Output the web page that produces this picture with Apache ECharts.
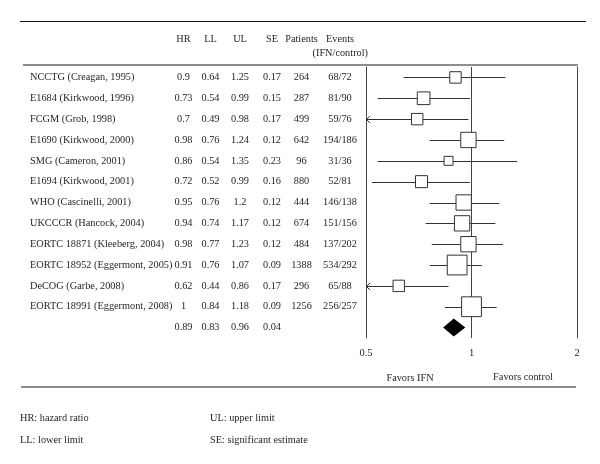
<!DOCTYPE html>
<html><head><meta charset="utf-8">
<script src="https://cdn.jsdelivr.net/npm/echarts/dist/echarts.min.js"></script>
<style>html,body{margin:0;padding:0;background:#fff}#c{width:600px;height:464px}</style>
</head><body><div id="c"></div>
<script>
// ---- data ----
const studies = ['NCCTG (Creagan, 1995)','E1684 (Kirkwood, 1996)','FCGM (Grob, 1998)','E1690 (Kirkwood, 2000)','SMG (Cameron, 2001)','E1694 (Kirkwood, 2001)','WHO (Cascinelli, 2001)','UKCCCR (Hancock, 2004)','EORTC 18871 (Kleeberg, 2004)','EORTC 18952 (Eggermont, 2005)','DeCOG (Garbe, 2008)','EORTC 18991 (Eggermont, 2008)'];
const hr = [0.9,0.73,0.7,0.98,0.86,0.72,0.95,0.94,0.98,0.91,0.62,1];
const ll = [0.64,0.54,0.49,0.76,0.54,0.52,0.76,0.74,0.77,0.76,0.44,0.84];
const ul = [1.25,0.99,0.98,1.24,1.35,0.99,1.2,1.17,1.23,1.07,0.86,1.18];
const se = [0.17,0.15,0.17,0.12,0.23,0.16,0.12,0.12,0.12,0.09,0.17,0.09];
const patients = [264,287,499,642,96,880,444,674,484,1388,296,1256];
const events = ['68/72','81/90','59/76','194/186','31/36','52/81','146/138','151/156','137/202','534/292','65/88','256/257'];
const pooledHR = 0.89, pooledLL = 0.83, pooledUL = 0.96, pooledSE = 0.04;
const axisTicks = [0.5, 1, 2];
const headers = ['HR','LL','UL','SE','Patients','Events'];
const footnotes = ['HR: hazard ratio','LL: lower limit','UL: upper limit','SE: significant estimate'];

// ---- layout ----
const FONT = 'Liberation Serif';
const FS = 10.3;
const TXT = '#231f20';
const nRows = studies.length;           // pooled row index = nRows
const colX = [183.5, 210.5, 240, 272, 301.5, 340]; // HR LL UL SE Patients Events (centers)
const nameX = 30;
const gTop = 67, gH = 271;
const fx0 = 366, fx1 = 577;

const chart = echarts.init(document.getElementById('c'), null, {renderer:'canvas'});

const tableData = studies.map((s,i)=>[i]);
tableData.push([nRows]);

function txt(x,y,t,align){
  return {type:'text', style:{x:x, y:y, text:t, fill:TXT, fontFamily:FONT, fontSize:FS, textAlign:align||'center', textVerticalAlign:'middle'}};
}

const option = {
  animation:false,
  backgroundColor:'#fff',
  grid:[
    {left:0, top:gTop, width:fx0, height:gH},
    {left:fx0, top:gTop, width:fx1-fx0, height:gH}
  ],
  xAxis:[
    {gridIndex:0, type:'value', min:0, max:fx0, show:false},
    {gridIndex:1, type:'log', logBase:2, min:axisTicks[0], max:axisTicks[axisTicks.length-1],
     axisLine:{show:false}, axisTick:{show:false}, splitLine:{show:false},
     axisLabel:{margin:10, color:TXT, fontFamily:FONT, fontSize:10.5, formatter:v=>String(+v.toPrecision(3))}}
  ],
  yAxis:[
    {gridIndex:0, type:'value', min:-0.5, max:nRows+0.5, inverse:true, show:false},
    {gridIndex:1, type:'value', min:-0.5, max:nRows+0.5, inverse:true, position:'left',
     axisLine:{show:true, lineStyle:{color:'#444', width:1}}, axisTick:{show:false}, axisLabel:{show:false}, splitLine:{show:false}},
    {gridIndex:1, type:'value', min:-0.5, max:nRows+0.5, inverse:true, position:'right',
     axisLine:{show:true, lineStyle:{color:'#444', width:1}}, axisTick:{show:false}, axisLabel:{show:false}, splitLine:{show:false}}
  ],
  graphic:[
    {type:'line', shape:{x1:20,y1:21.5,x2:586,y2:21.5}, style:{stroke:'#111', lineWidth:1}},
    {type:'line', shape:{x1:23,y1:65,x2:578,y2:65}, style:{stroke:'#666', lineWidth:1.5}},
    {type:'line', shape:{x1:21,y1:387,x2:576,y2:387}, style:{stroke:'#666', lineWidth:1.5}},
    ...headers.map((h,k)=>({type:'text', style:{x:colX[k], y:39, text:h, fill:TXT, fontFamily:FONT, fontSize:FS, textAlign:'center', textVerticalAlign:'middle'}})),
    {type:'text', style:{x:368, y:53, text:'(IFN/control)', fill:TXT, fontFamily:FONT, fontSize:FS, textAlign:'right', textVerticalAlign:'middle'}},
    {type:'text', style:{x:410, y:378, text:'Favors IFN', fill:TXT, fontFamily:FONT, fontSize:FS, textAlign:'center', textVerticalAlign:'middle'}},
    {type:'text', style:{x:523, y:377, text:'Favors control', fill:TXT, fontFamily:FONT, fontSize:FS, textAlign:'center', textVerticalAlign:'middle'}},
    {type:'text', style:{x:20, y:418.5, text:footnotes[0], fill:TXT, fontFamily:FONT, fontSize:FS, textAlign:'left', textVerticalAlign:'middle'}},
    {type:'text', style:{x:20, y:440, text:footnotes[1], fill:TXT, fontFamily:FONT, fontSize:FS, textAlign:'left', textVerticalAlign:'middle'}},
    {type:'text', style:{x:210, y:418.5, text:footnotes[2], fill:TXT, fontFamily:FONT, fontSize:FS, textAlign:'left', textVerticalAlign:'middle'}},
    {type:'text', style:{x:210, y:440, text:footnotes[3], fill:TXT, fontFamily:FONT, fontSize:FS, textAlign:'left', textVerticalAlign:'middle'}}
  ],
  series:[
    // table text
    {type:'custom', xAxisIndex:0, yAxisIndex:0, data:tableData, encode:{y:0}, z:3,
     renderItem:function(params, api){
       const i = api.value(0);
       const y = api.coord([0, i])[1];
       const ch = [];
       if (i < nRows){
         ch.push(txt(api.coord([nameX,i])[0], y, studies[i], 'left'));
         const vals = [hr[i], ll[i], ul[i], se[i], patients[i], events[i]];
         vals.forEach((v,k)=>ch.push(txt(api.coord([colX[k],i])[0], y, String(v), 'center')));
       } else {
         const vals = [pooledHR, pooledLL, pooledUL, pooledSE];
         vals.forEach((v,k)=>ch.push(txt(api.coord([colX[k],i])[0], y, String(v), 'center')));
       }
       return {type:'group', children:ch};
     }},
    // reference line + CI lines
    {type:'custom', xAxisIndex:1, yAxisIndex:1, z:2,
     data:hr.map((h,i)=>[h, i, ll[i], ul[i]]), encode:{x:0, y:1},
     markLine:{silent:true, symbol:'none', label:{show:false}, lineStyle:{color:'#444', width:1, type:'solid'}, data:[{xAxis:1}]},
     renderItem:function(params, api){
       const i = api.value(1), lo = api.value(2), hi = api.value(3);
       const loC = Math.max(lo, axisTicks[0]), hiC = Math.min(hi, axisTicks[2]);
       const p1 = api.coord([loC, i]), p2 = api.coord([hiC, i]);
       const y = Math.round(p1[1]) + 0.5;
       const ch = [{type:'line', shape:{x1:p1[0], y1:y, x2:p2[0], y2:y}, style:{stroke:'#333', lineWidth:1}}];
       if (lo < axisTicks[0]) {
         ch.push({type:'polyline', shape:{points:[[p1[0]+4, y-3.5],[p1[0]+0.5, y],[p1[0]+4, y+3.5]]}, style:{stroke:'#333', lineWidth:1, fill:null}});
       }
       if (hi > axisTicks[2]) {
         ch.push({type:'polyline', shape:{points:[[p2[0]-4, y-3.5],[p2[0]-0.5, y],[p2[0]-4, y+3.5]]}, style:{stroke:'#333', lineWidth:1, fill:null}});
       }
       return {type:'group', children:ch};
     }},
    // point estimates (boxes sized by precision)
    {type:'scatter', xAxisIndex:1, yAxisIndex:1, z:5,
     data:hr.map((h,i)=>[h, i, se[i]]),
     symbol:'rect', symbolSize:v=>1.6/v[2]+2,
     itemStyle:{color:'#fff', borderColor:'#333', borderWidth:1, opacity:1}},
    // pooled diamond
    {type:'custom', xAxisIndex:1, yAxisIndex:1, z:5,
     data:[[pooledHR, nRows, pooledLL, pooledUL]], encode:{x:0, y:1},
     renderItem:function(params, api){
       const r = api.value(1);
       const c = api.coord([api.value(0), r]);
       const a = api.coord([api.value(2), r]);
       const b = api.coord([api.value(3), r]);
       return {type:'polygon', shape:{points:[[a[0], c[1]],[c[0], c[1]-9],[b[0], c[1]],[c[0], c[1]+9]]}, style:{fill:'#000'}};
     }}
  ]
};
chart.setOption(option);
</script>
</body></html>
